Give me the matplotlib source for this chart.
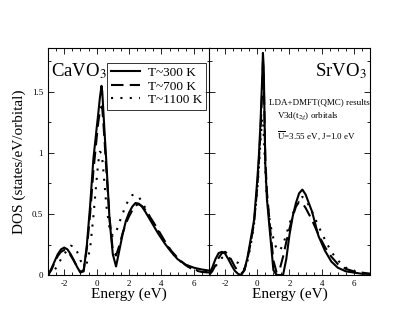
import matplotlib
matplotlib.use("Agg")
import matplotlib.pyplot as plt
from matplotlib.ticker import MultipleLocator

plt.rcParams["font.family"] = ["Liberation Serif", "DejaVu Serif"]
plt.rcParams["mathtext.fontset"] = "stix"

# energy grid (eV)
energy = [-3.0, -2.8, -2.6, -2.4, -2.2, -2.0, -1.8, -1.6, -1.4, -1.2, -1.0, -0.8,
          -0.6, -0.4, -0.2, 0.0, 0.1, 0.2, 0.3, 0.35, 0.4, 0.5, 0.6, 0.8, 1.0,
          1.2, 1.4, 1.6, 1.8, 2.0, 2.2, 2.4, 2.6, 2.8, 3.0, 3.4, 3.8, 4.2, 4.6,
          5.0, 5.5, 6.0, 6.5, 7.0]

# CaVO3
ca_300 = [0.0, 0.05, 0.11, 0.17, 0.21, 0.225, 0.21, 0.17, 0.12, 0.065, 0.02, 0.03,
          0.25, 0.57, 0.95, 1.2, 1.32, 1.45, 1.55, 1.5, 1.38, 1.15, 0.93, 0.45, 0.17,
          0.07, 0.2, 0.33, 0.44, 0.51, 0.56, 0.59, 0.585, 0.56, 0.52, 0.43, 0.34,
          0.26, 0.19, 0.13, 0.085, 0.06, 0.045, 0.035]
ca_700 = [0.0, 0.04, 0.1, 0.155, 0.19, 0.205, 0.195, 0.16, 0.115, 0.065, 0.025, 0.04,
          0.22, 0.5, 0.85, 1.12, 1.25, 1.34, 1.38, 1.36, 1.28, 1.08, 0.86, 0.47, 0.2,
          0.16, 0.24, 0.34, 0.42, 0.48, 0.53, 0.57, 0.58, 0.565, 0.535, 0.455, 0.37,
          0.28, 0.2, 0.14, 0.08, 0.04, 0.025, 0.02]
ca_1100 = [0.0, 0.01, 0.04, 0.08, 0.13, 0.17, 0.21, 0.24, 0.235, 0.19, 0.12, 0.08,
           0.1, 0.22, 0.48, 0.78, 0.92, 1.01, 1.0, 0.95, 0.88, 0.73, 0.57, 0.38, 0.32,
           0.35, 0.43, 0.5, 0.57, 0.62, 0.655, 0.66, 0.64, 0.6, 0.55, 0.45, 0.36,
           0.27, 0.19, 0.13, 0.08, 0.045, 0.03, 0.02]

# SrVO3
sr_300 = [0.01, 0.06, 0.13, 0.18, 0.19, 0.175, 0.13, 0.08, 0.035, 0.01, 0.0, 0.04,
          0.15, 0.3, 0.45, 0.78, 0.98, 1.25, 1.6, 1.82, 1.7, 0.9, 0.62, 0.33, 0.04,
          0.0, 0.0, 0.0, 0.13, 0.33, 0.48, 0.59, 0.67, 0.7, 0.66, 0.52, 0.32,
          0.2, 0.11, 0.06, 0.03, 0.02, 0.01, 0.01]
sr_700 = [0.0, 0.03, 0.08, 0.14, 0.18, 0.19, 0.17, 0.12, 0.07, 0.03, 0.01, 0.04,
          0.14, 0.27, 0.43, 0.72, 0.93, 1.18, 1.5, 1.74, 1.6, 0.95, 0.68, 0.38, 0.12,
          0.02, 0.05, 0.15, 0.27, 0.38, 0.48, 0.56, 0.6, 0.59, 0.55, 0.45, 0.33,
          0.23, 0.15, 0.09, 0.05, 0.03, 0.02, 0.01]
sr_1100 = [0.02, 0.04, 0.07, 0.11, 0.14, 0.16, 0.15, 0.12, 0.11, 0.1, 0.06, 0.05,
           0.12, 0.25, 0.42, 0.7, 0.88, 1.1, 1.28, 1.28, 1.15, 0.85, 0.62, 0.42, 0.3,
           0.21, 0.2, 0.25, 0.33, 0.42, 0.5, 0.57, 0.62, 0.64, 0.62, 0.52, 0.4,
           0.29, 0.19, 0.12, 0.06, 0.03, 0.015, 0.01]

labels = ["T~300 K", "T~700 K", "T~1100 K"]
styles = ["-", (0, (6, 3)), (0, (1, 3.5))]

fig = plt.figure(figsize=(4.19, 3.24), dpi=100)
ax1 = fig.add_axes([0.1146, 0.1512, 0.3866, 0.7006])
ax2 = fig.add_axes([0.4988, 0.1512, 0.3842, 0.7006], sharey=ax1)

for ax, series in [(ax1, [ca_300, ca_700, ca_1100]), (ax2, [sr_300, sr_700, sr_1100])]:
    for ys, ls, lab in zip(series, styles, labels):
        ax.plot(energy, ys, color="black", linestyle=ls, lw=1.5, label=lab)
    ax.set_xlim(-3, 7)
    ax.set_ylim(0, 1.86)
    ax.xaxis.set_major_locator(MultipleLocator(2))
    ax.xaxis.set_minor_locator(MultipleLocator(0.5))
    ax.yaxis.set_major_locator(MultipleLocator(0.5))
    ax.yaxis.set_minor_locator(MultipleLocator(0.25))
    ax.tick_params(which="both", direction="in", top=True, right=True, labelsize=6.5, width=0.6)
    ax.tick_params(which="major", length=4)
    ax.tick_params(which="minor", length=2.5)
    for s in ax.spines.values():
        s.set_linewidth(0.8)
    ax.set_xlabel("Energy (eV)", fontsize=11, labelpad=0)

ax1.set_yticks([0, 0.5, 1, 1.5])
ax1.set_yticklabels(["0", "0.5", "1", "1.5"])
ax1.set_xticks([-2, 0, 2, 4, 6])
ax1.set_xticklabels(["-2", "0", "2", "4", "6"])
ax2.set_xticks([-2, 0, 2, 4, 6])
ax2.set_xticklabels(["-2", "0", "2", "4", "6"])
ax2.tick_params(labelleft=False)
ax1.set_ylabel("DOS (states/eV/orbital)", fontsize=11, labelpad=4)

ax1.text(0.02, 0.9, "CaVO$_3$", transform=ax1.transAxes, fontsize=13.5, va="center")
ax2.text(0.98, 0.9, "SrVO$_3$", transform=ax2.transAxes, fontsize=13.5, va="center", ha="right")
ax2.text(0.37, 0.76, "LDA+DMFT(QMC) results", transform=ax2.transAxes, fontsize=6.5, va="center")
ax2.text(0.42, 0.70, "V3d(t$_{2g}$) orbitals", transform=ax2.transAxes, fontsize=6.5, va="center")
ax2.text(0.42, 0.615, r"$\overline{\rm U}$=3.55 eV, J=1.0 eV", transform=ax2.transAxes,
         fontsize=6.5, va="center")

leg = ax1.legend(loc="upper right", bbox_to_anchor=(0.975, 0.935), fontsize=9.5,
                 frameon=True, fancybox=False, edgecolor="black", handlelength=2.2,
                 handletextpad=0.6, borderpad=0.3, labelspacing=0.1, borderaxespad=0)
leg.get_frame().set_linewidth(0.7)

fig.savefig("out.png", dpi=100)
